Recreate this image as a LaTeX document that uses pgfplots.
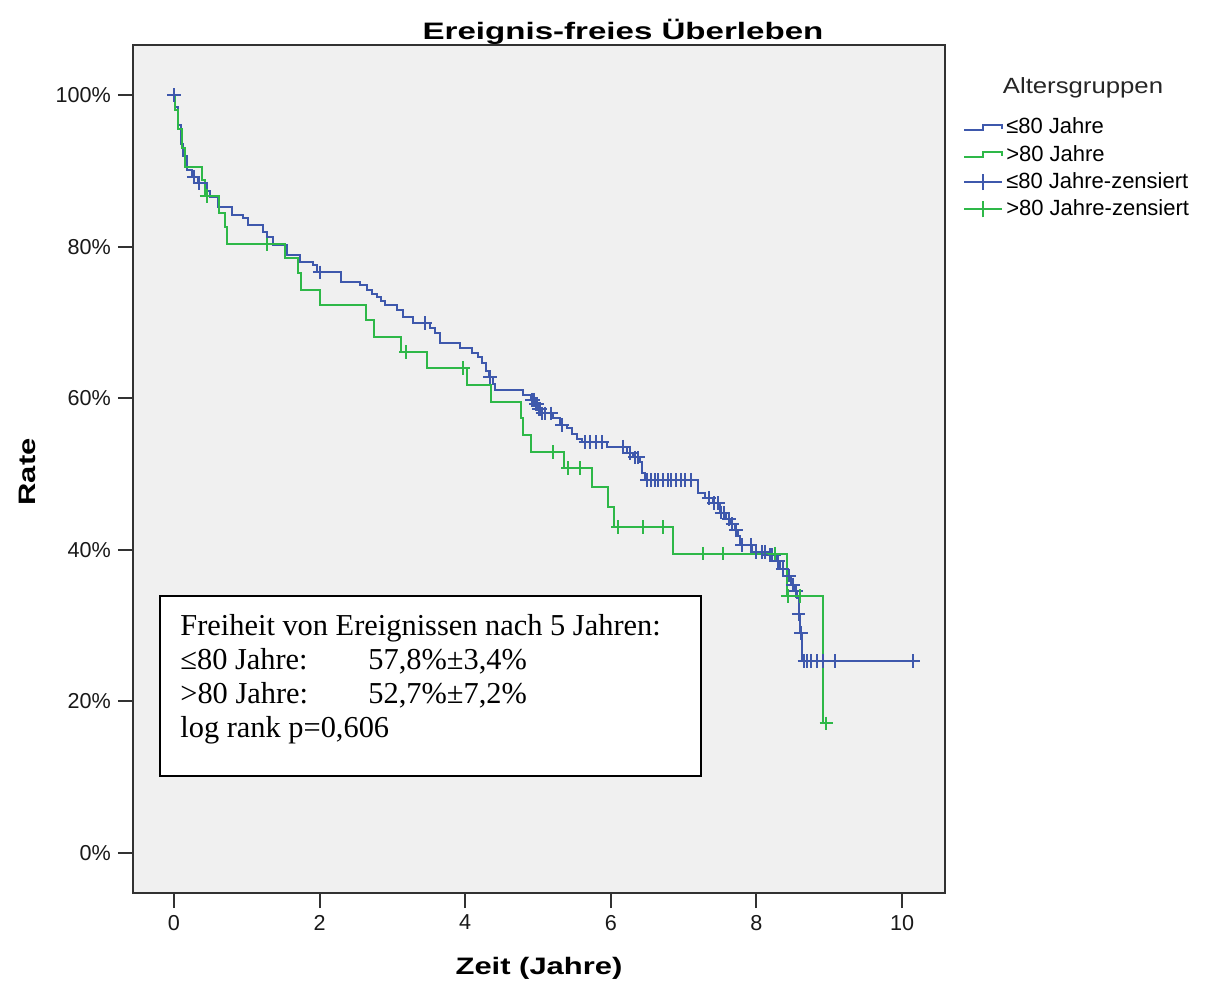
\documentclass[border=0pt]{standalone}
\usepackage{pgfplots}
\pgfplotsset{compat=1.18}
\usepackage{fontspec}
\setmainfont{Liberation Sans}
\newfontfamily\timesf{Liberation Serif}
\definecolor{kmblue}{RGB}{62,88,172}
\definecolor{kmgreen}{RGB}{46,184,72}
\definecolor{bgray}{RGB}{240,240,240}
\definecolor{frm}{RGB}{50,50,50}
\begin{document}
\begin{tikzpicture}
\useasboundingbox (-66.5pt,-47pt) rectangle (541pt,446.5pt);
\begin{axis}[at={(0pt,0pt)}, anchor=south west,
  width=406pt, height=424pt, scale only axis,
  xmin=-0.563, xmax=10.59, ymin=-5.28, ymax=106.6,
  axis background/.style={fill=bgray},
  axis line style={frm, line width=1pt},
  xtick={0,2,4,6,8,10}, ytick={0,20,40,60,80,100},
  xtick pos=left, ytick pos=left,
  tick align=outside, major tick length=7.5pt,
  tick style={frm, line width=1pt},
  yticklabel={\pgfmathprintnumber{\tick}\%},
  /pgf/number format/assume math mode=true,
  ticklabel style={font=\fontsize{10.8}{12}\selectfont, text=black!90},
  legend style={draw=none, fill=none, at={(1.022,0.918)}, anchor=north west,
    font=\fontsize{11}{12}\selectfont, row sep=1.2pt, inner sep=0pt,
    nodes={inner sep=1.5pt}},
  legend cell align=left,
  clip=false
]
% <=80 Jahre
\addplot[kmblue, line width=1pt, const plot, mark=none,
  legend image code/.code={\draw[kmblue,line width=1pt] (0pt,-1.2pt) -- (9.5pt,-1.2pt) -- (9.5pt,1.3pt) -- (19pt,1.3pt) -- (19pt,-0.8pt);}]
coordinates {
(0,100) (0.02,98.4) (0.06,96) (0.1,93.5) (0.13,92) (0.18,90.1) (0.25,89.2) (0.33,88.4)
(0.45,87.4) (0.5,86.5) (0.6,85.2) (0.8,84.2) (0.95,83.8) (1.02,82.8) (1.22,81.9) (1.28,81.3)
(1.36,80.2) (1.55,78.9) (1.73,78.0) (1.91,77.6) (1.97,76.6) (2.3,75.3) (2.55,74.9) (2.65,74.3)
(2.72,73.8) (2.79,73.4) (2.85,72.8) (2.9,72.3) (3.06,71.6) (3.15,70.7) (3.28,69.9) (3.52,69.3)
(3.58,68.6) (3.65,67.3) (3.93,66.6) (4.1,65.9) (4.18,65.4) (4.23,64.6) (4.28,63.6) (4.32,62.8)
(4.38,61.9) (4.41,61.1) (4.79,60.4) (4.9,59.8) (4.96,59.2) (5.0,58.6) (5.05,58.0) (5.2,57.4)
(5.3,56.5) (5.4,56.1) (5.47,55.3) (5.54,54.6) (5.6,54.2) (5.95,53.6) (6.22,52.8) (6.3,52.2)
(6.4,51.6) (6.43,50.1) (6.47,49.2) (7.2,47.5) (7.3,46.8) (7.4,46.2) (7.5,44.9) (7.58,44.0)
(7.64,43.4) (7.7,42.6) (7.74,41.8) (7.78,40.6) (7.94,39.7) (8.15,39.3) (8.28,38.5) (8.32,37.5)
(8.42,36.6) (8.47,35.4) (8.52,34.5) (8.56,33.6) (8.58,31.5) (8.6,29.0) (8.62,27.0) (8.63,25.3)
(10.15,25.3)
};
\addlegendentry{≤80 Jahre}
% >80 Jahre
\addplot[kmgreen, line width=1pt, const plot, mark=none,
  legend image code/.code={\draw[kmgreen,line width=1pt] (0pt,-1.2pt) -- (9.5pt,-1.2pt) -- (9.5pt,1.3pt) -- (19pt,1.3pt) -- (19pt,-0.8pt);}]
coordinates {
(0,100) (0.02,98) (0.06,95.5) (0.11,93) (0.15,90.5) (0.38,88.8) (0.43,86.7) (0.62,84.4)
(0.7,82.6) (0.73,80.3) (1.53,78.5) (1.7,76.5) (1.74,74.3) (2.0,72.3) (2.64,70.3) (2.75,68.1)
(3.12,66.1) (3.48,64.0) (4.02,61.7) (4.36,59.5) (4.76,57.4) (4.79,55.1) (4.9,52.9) (5.36,50.8)
(5.74,48.3) (5.96,45.6) (6.04,43.0) (6.86,39.5) (8.42,33.9) (8.91,17.1) (8.96,17.1)
};
\addlegendentry{>80 Jahre}
% censored <=80
\addplot[kmblue, only marks, mark=+, mark size=3.4pt, mark options={line width=1pt},
  legend image code/.code={\draw[kmblue,line width=1pt] (0pt,0pt) -- (19pt,0pt); \draw[kmblue,line width=1pt] (9.5pt,-4pt) -- (9.5pt,4pt);}]
coordinates {
(0,100) (0.27,89.2) (0.35,88.4) (2.0,76.6) (3.45,69.9) (4.34,62.8)
(4.92,59.8) (4.94,59.8) (4.97,59.2) (4.99,59.2) (5.01,58.6) (5.03,58.6) (5.06,58.0) (5.1,58.0)
(5.18,58.0) (5.33,56.5) (5.65,54.2) (5.72,54.2) (5.8,54.2) (5.88,54.2) (6.17,53.6)
(6.27,52.8) (6.33,52.2) (6.37,52.2)
(6.5,49.2) (6.55,49.2) (6.6,49.2) (6.65,49.2) (6.72,49.2) (6.78,49.2) (6.83,49.2) (6.9,49.2)
(6.96,49.2) (7.02,49.2) (7.1,49.2)
(7.35,46.8) (7.42,46.2) (7.47,46.2) (7.52,44.9) (7.55,44.9) (7.62,44.0) (7.67,43.4) (7.72,42.6)
(7.8,40.6) (7.92,40.6) (8.0,39.7) (8.07,39.7) (8.12,39.7) (8.18,39.3) (8.22,39.3) (8.25,39.3)
(8.3,38.5) (8.36,37.5) (8.45,36.6) (8.5,35.4) (8.54,34.5) (8.58,31.5) (8.61,29.0)
(8.66,25.3) (8.7,25.3) (8.75,25.3) (8.83,25.3) (8.91,25.3) (9.08,25.3) (10.15,25.3)
};
\addlegendentry{≤80 Jahre-zensiert}
% censored >80
\addplot[kmgreen, only marks, mark=+, mark size=3.4pt, mark options={line width=1pt},
  legend image code/.code={\draw[kmgreen,line width=1pt] (0pt,0pt) -- (19pt,0pt); \draw[kmgreen,line width=1pt] (9.5pt,-4pt) -- (9.5pt,4pt);}]
coordinates {
(0.45,86.7) (1.28,80.3) (3.19,66.1) (3.97,64.0) (5.2,52.9) (5.41,50.8) (5.58,50.8)
(6.1,43.0) (6.44,43.0) (6.72,43.0) (7.27,39.5) (7.54,39.5) (8.25,39.5) (8.43,33.9) (8.6,33.9)
(8.96,17.1)
};
\addlegendentry{>80 Jahre-zensiert}
\end{axis}
% text box
\draw[black, line width=0.6pt, fill=white] (13.5pt,58.5pt) rectangle (284pt,148.5pt);
\begin{scope}[every node/.style={anchor=base west, inner sep=0pt, font=\timesf\fontsize{15.2}{17}\selectfont}]
\node at (23.5pt,129pt) {Freiheit von Ereignissen nach 5 Jahren:};
\node at (23.5pt,112pt) {≤80 Jahre:};
\node at (117.5pt,112pt) {57,8\%±3,4\%};
\node at (23.5pt,95pt) {>80 Jahre:};
\node at (117.5pt,95pt) {52,7\%±7,2\%};
\node at (23.5pt,78pt) {log rank p=0,606};
\end{scope}
% titles
\node at (245pt,430.5pt) {\scalebox{1.39}[1]{\fontsize{11.9}{14}\selectfont\bfseries Ereignis-freies Überleben}};
\node at (203pt,-37.5pt) {\scalebox{1.3}[1]{\fontsize{11.9}{14}\selectfont\bfseries Zeit (Jahre)}};
\node[rotate=90] at (-53pt,210.5pt) {\scalebox{1.3}[1]{\fontsize{11.9}{14}\selectfont\bfseries Rate}};
\node at (475pt,402.5pt) {\scalebox{1.17}[1]{\fontsize{11}{13}\selectfont\color{black!85}Altersgruppen}};
\end{tikzpicture}
\end{document}
